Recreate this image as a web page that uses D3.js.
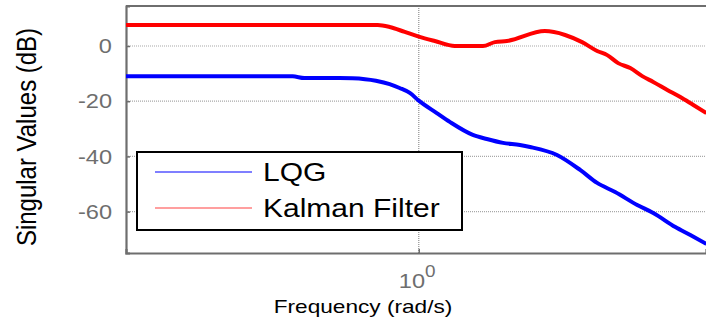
<!DOCTYPE html>
<html>
<head>
<meta charset="utf-8">
<script src="https://cdn.jsdelivr.net/npm/d3@7"></script>
<style>
html,body{margin:0;padding:0;background:#fff;}
svg{display:block;}
text{font-family:"Liberation Sans",Arial,sans-serif;}
</style>
</head>
<body>
<svg id="chart" width="706" height="320"></svg>
<script>
// ---- data ----
const seriesNames = ["LQG", "Kalman Filter"];
const seriesColors = ["#0000ff", "#ff0000"];

const lqgFreq = [0.2, 0.5, 0.533, 0.647, 0.695, 0.79, 0.852, 0.9, 0.952, 1.0, 1.104, 1.186, 1.346, 1.454, 1.589, 1.744, 1.843, 2.138, 2.428, 2.666, 2.943, 3.323, 3.629, 4.098, 4.45, 4.86];
const lqgDb   = [-11.0, -11.0, -11.6, -11.6, -11.7, -12.6, -13.8, -15.2, -17.0, -19.8, -24.3, -27.5, -32.2, -33.7, -35.1, -35.9, -36.6, -39.5, -44.9, -49.6, -52.9, -57.6, -60.5, -65.6, -68.5, -71.7];

const kfFreq = [0.2, 0.798, 0.852, 0.926, 1.0, 1.092, 1.219, 1.423, 1.52, 1.624, 2.0, 2.235, 2.454, 2.666, 2.818, 2.992, 3.198, 3.416, 3.629, 3.921, 4.212, 4.524, 4.86];
const kfDb   = [7.6, 7.6, 6.9, 5.1, 3.4, 1.8, 0.0, 0.0, 1.4, 1.8, 5.4, 4.0, 1.4, -1.8, -3.3, -6.2, -8.0, -10.9, -13.0, -15.9, -18.5, -21.4, -24.3];

const yTicks = [0, -20, -40, -60];
const yTickLabels = ["0", "-20", "-40", "-60"];
const xTicks = [1];
const xDomain = [0.2, 4.85];
const yDomain = [-75, 14.5];

const yLabel = "Singular Values (dB)";
const xLabel = "Frequency (rad/s)";

// ---- layout ----
const L = 126, R = 706, T = 6, B = 253;
const SX = 1.18; // horizontal text stretch seen in the reference
const svg = d3.select("#chart");

const x = d3.scaleLog().domain(xDomain).range([L, R]);
const y = d3.scaleLinear().domain(yDomain).range([B, T]);

// grid lines
svg.append("g").selectAll("line").data(yTicks).join("line")
  .attr("x1", L).attr("x2", R)
  .attr("y1", d => y(d)).attr("y2", d => y(d))
  .attr("stroke", "#a8a8a8").attr("stroke-width", 1.2)
  .attr("stroke-dasharray", "1,1");
svg.append("g").selectAll("line").data(xTicks).join("line")
  .attr("x1", d => x(d)).attr("x2", d => x(d))
  .attr("y1", T).attr("y2", B)
  .attr("stroke", "#909090").attr("stroke-width", 1.2)
  .attr("stroke-dasharray", "1,1");

// axes (D3 axes with ticks inside)
const yAxis = svg.append("g").attr("transform", `translate(${L},0)`)
  .call(d3.axisLeft(y).tickValues(yTicks).tickSize(-4).tickFormat(""));
const xAxis = svg.append("g").attr("transform", `translate(0,${B})`)
  .call(d3.axisBottom(x).tickValues(xTicks).tickSize(-4).tickFormat(""));
[yAxis, xAxis].forEach(g => {
  g.select(".domain").attr("stroke", "#6e6e6e").attr("stroke-width", 2.2);
  g.selectAll(".tick line").attr("stroke", "#6e6e6e").attr("stroke-width", 1.5);
});
// top border
svg.append("line").attr("x1", L).attr("x2", R).attr("y1", T).attr("y2", T)
  .attr("stroke", "#6e6e6e").attr("stroke-width", 2.2);

// tick labels
function stretchedText(px, py, str, opts) {
  const t = svg.append("text")
    .attr("transform", `translate(${px},${py}) scale(${opts.sx || SX},1)` + (opts.rot ? ` rotate(${opts.rot})` : ""))
    .attr("text-anchor", opts.anchor || "start")
    .attr("font-size", opts.size)
    .attr("fill", opts.color || "#000")
    .text(str);
  if (opts.dy) t.attr("dy", opts.dy);
  return t;
}
yTicks.forEach((v, i) => {
  stretchedText(112, y(v), yTickLabels[i], {anchor: "end", size: 20, color: "#6e6e6e", dy: "0.36em"});
});
xTicks.forEach(v => {
  const g = svg.append("text")
    .attr("transform", `translate(${x(v) - 20},288) scale(${SX},1)`)
    .attr("font-size", 20).attr("fill", "#6e6e6e");
  g.append("tspan").text("10");
  g.append("tspan").attr("dy", -11).attr("font-size", 16).text("0");
});

// axis labels
stretchedText(363, 313, xLabel, {anchor: "middle", size: 19.2});
stretchedText(36, 137, yLabel, {anchor: "middle", size: 24, rot: -90});

// curves
const line = d3.line().x(d => x(d[0])).y(d => y(d[1])).curve(d3.curveMonotoneX);
const clip = svg.append("clipPath").attr("id", "clip").append("rect")
  .attr("x", L).attr("y", T).attr("width", R - L).attr("height", B - T);
const lqgPts = lqgFreq.map((f, i) => [f, lqgDb[i]]);
const kfPts = kfFreq.map((f, i) => [f, kfDb[i]]);
svg.append("path").datum(kfPts).attr("d", line)
  .attr("fill", "none").attr("stroke", seriesColors[1]).attr("stroke-width", 4)
  .attr("clip-path", "url(#clip)");
svg.append("path").datum(lqgPts).attr("d", line)
  .attr("fill", "none").attr("stroke", seriesColors[0]).attr("stroke-width", 4)
  .attr("clip-path", "url(#clip)");

// legend
const lg = svg.append("g");
lg.append("rect").attr("x", 137).attr("y", 152).attr("width", 325).attr("height", 78)
  .attr("fill", "#fff").attr("stroke", "#000").attr("stroke-width", 2);
const legendColors = ["#0000ff", "#ff4040"];
seriesNames.forEach((name, i) => {
  const yy = 172 + i * 36;
  lg.append("line").attr("x1", 155).attr("x2", 252).attr("y1", yy).attr("y2", yy)
    .attr("stroke", legendColors[i]).attr("stroke-width", 1.2);
  stretchedText(263, yy + 9, name, {size: 25, sx: 1.2});
});
</script>
</body>
</html>
